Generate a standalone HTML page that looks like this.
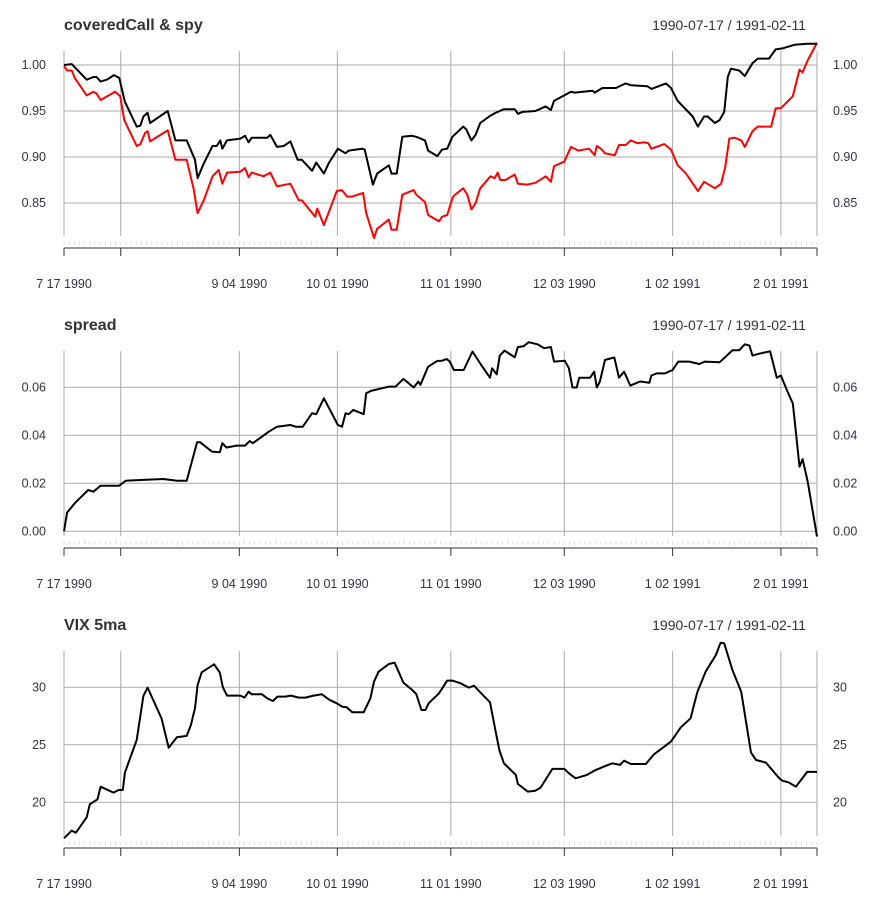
<!DOCTYPE html>
<html><head><meta charset="utf-8"><style>
body{margin:0;background:#fff;}
svg{display:block;font-family:"Liberation Sans",sans-serif;}
</style></head><body>
<svg id="c" width="881" height="900"></svg>
<script>
// trading-day index (0 = 1990-07-17, 146 = 1991-02-11) and values
const dateLabels=["7 17 1990","9 04 1990","10 01 1990","11 01 1990","12 03 1990","1 02 1991","2 01 1991"];
const dateLabelDays=[0,34,53,75,97,118,139];
const gridDays=[11,34,53,75,97,118,139];
const rangeText="1990-07-17 / 1991-02-11";
const nDays=146;

const ccT=[0,1.5,4.4,5.7,6.3,7.1,8.3,9.7,10.7,11.8,14.1,14.8,15.4,16.2,16.7,18,20.1,21.6,23.8,25.4,25.9,27.1,28.8,29.6,30.3,30.7,31.6,34.2,35.1,35.8,36.4,39.4,40,41.3,42.6,43.9,45.3,46.1,48.1,48.9,50.4,51.3,53.1,54.6,55.2,57.8,58.3,59.9,60.7,63,63.5,64.5,65.6,67.5,68.3,70,70.6,72.4,73.3,74.3,75.3,77.4,78,79,79.8,80.7,82.7,83.7,85.3,87.4,88,88.9,91.4,93.4,94.4,95,98.3,99,102.5,102.9,104.4,107,108.9,109.9,113.1,113.9,116.7,117.7,119,121.9,122.9,124.1,124.8,126.2,127.1,128,128.7,129.3,130.9,132,133.5,134.5,136.7,138,139.3,141.6,144.2,146];
const ccV=[1.000,1.001,0.984,0.987,0.987,0.982,0.984,0.989,0.986,0.960,0.933,0.934,0.944,0.948,0.937,0.942,0.950,0.918,0.918,0.897,0.877,0.893,0.912,0.912,0.918,0.909,0.918,0.920,0.923,0.916,0.921,0.921,0.924,0.911,0.912,0.917,0.897,0.897,0.885,0.894,0.882,0.893,0.909,0.904,0.907,0.909,0.908,0.870,0.882,0.891,0.882,0.882,0.922,0.923,0.922,0.918,0.907,0.901,0.908,0.909,0.922,0.933,0.930,0.918,0.924,0.937,0.945,0.948,0.952,0.952,0.947,0.949,0.950,0.955,0.951,0.961,0.971,0.970,0.972,0.970,0.975,0.975,0.980,0.978,0.977,0.974,0.980,0.975,0.961,0.944,0.933,0.944,0.944,0.937,0.940,0.949,0.987,0.996,0.994,0.988,1.002,1.007,1.007,1.017,1.018,1.022,1.023,1.023];

const spyT=[0,0.6,1.5,2.1,4.4,5.7,6.3,7.1,9.9,10.9,11.7,14.1,14.8,15.7,16.2,16.7,20.1,21.6,23.8,25.1,25.9,27.1,28.8,30,30.7,31.6,34.2,35.1,35.8,36.4,38.7,40,41.3,43.9,45.5,46.1,48.7,49.1,50.4,52.9,53.9,54.9,55.9,58,58.6,60.1,60.7,63,63.5,64.5,65.6,67.8,68.3,70,70.6,72.7,73.3,74.3,75.3,75.6,77.4,78.2,79,79.8,80.7,82.7,83.5,84.1,84.6,85.6,87.4,88,89.8,91.4,93.4,94.4,95,97,98.3,99.7,101.8,102.9,103.3,104.1,104.9,106.8,107.6,108.9,109.9,111.2,112.5,113.3,113.9,116.4,117.7,119,120.6,122.9,124.1,126.2,127.4,128.2,129,130,131.3,132,133.5,134.5,137.1,138,139,141.3,142.6,143.2,144.2,146];
const spyV=[0.999,0.994,0.994,0.986,0.967,0.971,0.969,0.962,0.971,0.966,0.940,0.912,0.914,0.926,0.928,0.917,0.929,0.897,0.897,0.866,0.839,0.853,0.879,0.886,0.871,0.883,0.884,0.888,0.878,0.883,0.879,0.883,0.868,0.871,0.853,0.853,0.835,0.844,0.826,0.863,0.864,0.857,0.857,0.861,0.839,0.812,0.822,0.832,0.821,0.821,0.859,0.864,0.859,0.851,0.837,0.830,0.835,0.837,0.855,0.858,0.866,0.859,0.843,0.850,0.866,0.879,0.877,0.883,0.875,0.875,0.881,0.871,0.870,0.872,0.879,0.873,0.890,0.895,0.911,0.907,0.909,0.902,0.912,0.909,0.904,0.902,0.913,0.913,0.918,0.915,0.916,0.915,0.909,0.914,0.908,0.891,0.882,0.863,0.873,0.866,0.871,0.889,0.920,0.921,0.918,0.911,0.928,0.933,0.933,0.953,0.953,0.966,0.995,0.992,1.005,1.024];

const spT=[0,0.6,2.1,4.7,5.7,7.1,10.7,12,15.4,19.3,21.9,23.8,25.8,26.4,28.7,30.2,30.7,31.5,33.5,35.1,36,36.6,39.7,41.3,43.9,44.9,46.3,48.1,48.9,50.4,53.1,53.9,54.6,55.2,56.1,58.1,58.6,59.5,63,64.3,65.8,67.8,68.7,69.1,70.6,72.4,73.3,74.2,74.8,75.6,77.5,79.2,80.9,82.6,83,83.9,84.5,85.4,87.4,88,89.1,90.1,91.8,93.1,94.4,95,97.1,97.9,98.6,99.4,99.9,102,102.8,103.3,103.9,104.9,106.7,107.6,108.6,109.8,111.7,113.5,113.9,114.9,116.5,118,119.1,121.2,123.2,124.2,127.1,128.3,129.6,130.9,132,132.9,133.5,134.8,136.9,138.2,139,140,141.3,141.7,142.6,143.2,144.2,146];
const spV=[0,0.0078,0.0117,0.0172,0.0165,0.0190,0.0190,0.0211,0.0214,0.0218,0.0211,0.0211,0.0371,0.0371,0.0332,0.0329,0.0367,0.0349,0.0357,0.0357,0.0376,0.0367,0.0415,0.0436,0.0443,0.0436,0.0436,0.0492,0.0488,0.0554,0.0443,0.0436,0.0492,0.0488,0.0506,0.0488,0.0575,0.0585,0.0603,0.0603,0.0635,0.0599,0.0624,0.0610,0.0686,0.0710,0.0711,0.0718,0.0707,0.0672,0.0672,0.0749,0.0693,0.0640,0.0679,0.0654,0.0732,0.0753,0.0725,0.0768,0.0771,0.0788,0.0779,0.0763,0.0768,0.0707,0.0711,0.0679,0.0599,0.0599,0.0640,0.0640,0.0665,0.0599,0.0624,0.0714,0.0724,0.0640,0.0665,0.0607,0.0624,0.0619,0.0649,0.0658,0.0658,0.0672,0.0707,0.0707,0.0697,0.0707,0.0704,0.0728,0.0754,0.0754,0.0779,0.0774,0.0732,0.0740,0.0750,0.0640,0.0649,0.0596,0.0533,0.0457,0.0269,0.0301,0.0207,-0.0022];

const vxT=[0,1.5,2.3,4.4,5,6.5,7.1,9.6,10.6,11.4,11.8,14.1,15.4,16.2,18.9,20.3,21.9,23.8,24.6,25.4,25.9,26.7,29.1,30.2,30.8,31.6,34.2,35,35.8,36.4,38.4,39.4,40.5,41.4,42.9,44,45.5,46.8,48.4,50,51.5,52.9,53.9,54.8,55.9,58.1,59.4,60.1,61,63,64.1,65.8,67.5,68.3,69.3,70.1,70.7,71.7,72.7,74.3,75.3,76.9,78.5,79.5,80.9,82.6,83.5,84.4,85.3,87.6,88,89.9,91.4,92.4,94.7,97,97.9,99.2,101.4,102.8,104.7,106.3,107.8,108.6,109.9,112.8,114.4,117.7,119.6,121.5,122.8,124.4,126.4,127.3,128,129.6,131.3,133.2,134.2,136.1,138.7,139.3,140.6,141.9,142.9,144.1,146];
const vxV=[16.87,17.54,17.36,18.70,19.83,20.26,21.36,20.84,21.07,21.07,22.58,25.42,29.25,29.97,27.30,24.75,25.65,25.77,26.72,28.17,30.20,31.30,32.00,31.28,30.00,29.28,29.28,29.10,29.62,29.39,29.39,29.04,28.81,29.19,29.19,29.28,29.10,29.10,29.28,29.39,28.90,28.61,28.32,28.26,27.83,27.83,29.04,30.49,31.36,32.03,32.14,30.41,29.77,29.42,28.03,28.03,28.61,29.04,29.48,30.58,30.58,30.35,29.97,30.14,29.48,28.70,26.58,24.55,23.39,22.38,21.59,20.93,21.01,21.28,22.90,22.90,22.52,22.09,22.38,22.75,23.10,23.39,23.25,23.62,23.33,23.33,24.17,25.28,26.52,27.30,29.57,31.36,32.81,33.88,33.83,31.51,29.62,24.32,23.68,23.45,22.09,21.88,21.71,21.36,21.94,22.64,22.64];

const p1Ticks=[1.00,0.95,0.90,0.85], p1Lab=["1.00","0.95","0.90","0.85"];
const p2Ticks=[0.06,0.04,0.02,0.00], p2Lab=["0.06","0.04","0.02","0.00"];
const p3Ticks=[30,25,20], p3Lab=["30","25","20"];

const NS="http://www.w3.org/2000/svg";
const svg=document.getElementById('c');
const X0=64,X1=817;
function xs(t){return X0+(X1-X0)*t/nDays;}
function mk(tag,attrs,parent){const e=document.createElementNS(NS,tag);for(const k in attrs)e.setAttribute(k,attrs[k]);(parent||svg).appendChild(e);return e;}

function panel(off,title,key,ticks,labs,yscale,series){
  const g=mk('g',{});
  
  
  const top=51+off,bot=236+off,ax=248+off;
  const t=mk('text',{x:64,y:30+off,'font-size':16,'font-weight':'bold',fill:'#333'},g);t.textContent=title;
  
  const r=mk('text',{x:806,y:30+off,'font-size':14,fill:'#333','text-anchor':'end'},g);r.textContent=rangeText;
  
  mk('line',{x1:X0,x2:X0,y1:top,y2:bot,stroke:'#aaa','stroke-width':1},g);
  mk('line',{x1:X1,x2:X1,y1:top,y2:bot,stroke:'#aaa','stroke-width':1},g);
  gridDays.forEach(d=>{const l=mk('line',{x1:xs(d),x2:xs(d),y1:top,y2:bot,stroke:'#aaa','stroke-width':1},g);
    });
  ticks.forEach((v,i)=>{const y=yscale(v);
    const l=mk('line',{x1:X0,x2:X1,y1:y,y2:y,stroke:'#aaa','stroke-width':1},g);
    
    const a=mk('text',{x:46,y:y+4,'font-size':12.5,fill:'#334','text-anchor':'end'},g);a.textContent=labs[i];
    
    const b=mk('text',{x:833,y:y+4,'font-size':12.5,fill:'#334'},g);b.textContent=labs[i];
    });
  for(let d=0;d<=nDays;d++){mk('line',{x1:xs(d),x2:xs(d),y1:ax-7,y2:ax-3,stroke:'#ddd','stroke-width':1},g);}
  const axl=mk('line',{x1:X0,x2:X1,y1:ax,y2:ax,stroke:'#333','stroke-width':1},g);
  
  mk('line',{x1:X0,x2:X0,y1:ax,y2:ax+8,stroke:'#333'},g);
  gridDays.forEach(d=>mk('line',{x1:xs(d),x2:xs(d),y1:ax,y2:ax+8,stroke:'#333'},g));
  mk('line',{x1:X1,x2:X1,y1:ax,y2:ax+8,stroke:'#333'},g);
  dateLabelDays.forEach((d,i)=>{const l=mk('text',{x:xs(d),y:288+off,'font-size':12.5,fill:'#334','text-anchor':'middle'},g);
    l.textContent=dateLabels[i];});
  series.forEach(s=>{
    const pts=s.t.map((d,i)=>xs(d).toFixed(1)+','+yscale(s.v[i]).toFixed(1)).join(' ');
    const p=mk('polyline',{points:pts,fill:'none',stroke:s.c,'stroke-width':2,'stroke-linejoin':'round'},g);
    });
}
panel(0,'coveredCall & spy','covered-call-spy',p1Ticks,p1Lab,v=>65+(1-v)*920,
  [{t:spyT,v:spyV,c:'#f00',n:'spy-line'},{t:ccT,v:ccV,c:'#000',n:'covered-call-line'}]);
panel(300,'spread','spread',p2Ticks,p2Lab,v=>531.3-v*2400,[{t:spT,v:spV,c:'#000',n:'spread-line'}]);
panel(600,'VIX 5ma','vix',p3Ticks,p3Lab,v=>687.3+(30-v)*11.5,[{t:vxT,v:vxV,c:'#000',n:'vix-line'}]);
</script>
</body></html>
